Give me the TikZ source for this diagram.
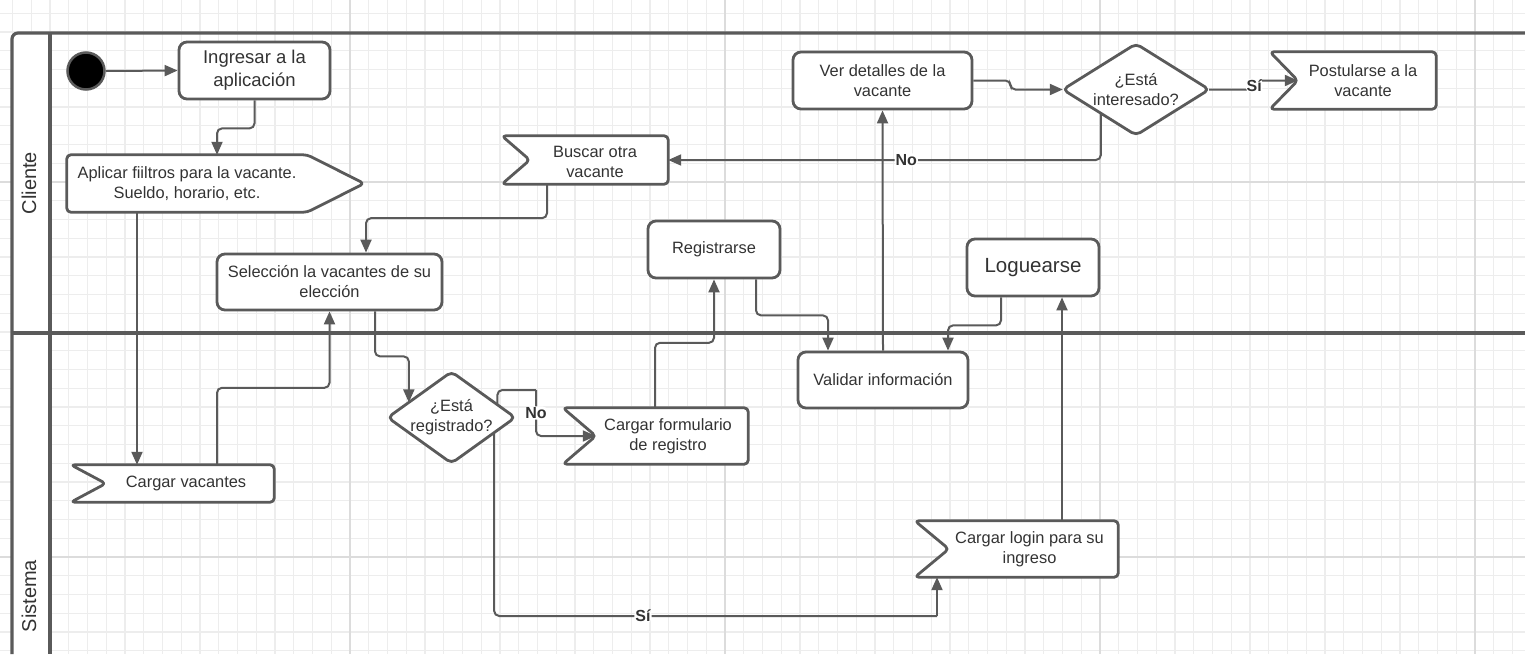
\documentclass[tikz,border=0pt]{standalone}
\usepackage{fontspec}
\setmainfont{Liberation Sans}
\usetikzlibrary{arrows.meta,calc}
\definecolor{linec}{HTML}{5A5A5A}
\definecolor{textc}{HTML}{333333}
\definecolor{gridminor}{HTML}{EDEDED}
\definecolor{gridmajor}{HTML}{DCDCDC}
\pgfdeclarelayer{gridlayer}
\pgfdeclarelayer{bglayer}
\pgfsetlayers{gridlayer,bglayer,main}
\tikzset{
  txt/.style={font=\fontsize{16.4}{20}\selectfont, text=textc, align=center, inner sep=0pt},
  rbox/.style={txt, draw=linec, line width=2.8pt, fill=white, rounded corners=8pt},
  border/.style={draw=linec, line width=2.8pt, fill=white, rounded corners=4pt, line join=round},
  conn/.style={draw=linec, line width=2pt, rounded corners=5pt, -{Triangle[length=13pt,width=11pt]}},
  plainconn/.style={draw=linec, line width=2pt, rounded corners=5pt},
  lbl/.style={font=\bfseries\fontsize{16}{18}\selectfont, text=textc, fill=white, inner sep=1pt},
  lane/.style={draw=linec, line width=3.2pt},
  lanelbl/.style={font=\fontsize{20}{24}\selectfont, text=textc, rotate=90, inner sep=0pt},
}
\begin{document}
\begin{tikzpicture}[x=1pt,y=-1pt]
\useasboundingbox (0,0) rectangle (1525,654);
% grid
\begin{pgfonlayer}{gridlayer}
  \fill[white] (0,0) rectangle (1525,654);
  \foreach \i in {0,...,81} \draw[gridminor, line width=1.2pt] ({12.5+18.75*\i},0) -- ({12.5+18.75*\i},654);
  \foreach \j in {0,...,34} \draw[gridminor, line width=1.2pt] (0,{13.25+18.75*\j}) -- (1525,{13.25+18.75*\j});
  \foreach \x in {350,725,1100,1475} \draw[gridmajor, line width=1.8pt] (\x,0) -- (\x,654);
  \foreach \y in {182,557} \draw[gridmajor, line width=1.8pt] (0,\y) -- (1525,\y);
\end{pgfonlayer}
% lanes
\begin{pgfonlayer}{bglayer}
  \fill[white, rounded corners=6pt] (12,660) -- (12,33) -- (50,33) -- (50,660) -- cycle;
  \draw[lane, rounded corners=6pt] (12,654) -- (12,33) -- (1525,33);
  \draw[lane, line width=4pt] (50,33) -- (50,654);
  \draw[lane] (12,333) -- (1525,333);
\end{pgfonlayer}
\node[lanelbl] (cliente) at (29,183) {Cliente};
\node[lanelbl] (sistema) at (29,596) {Sistema};

% nodes
\node[circle, fill=black, draw=linec, line width=2.5pt, minimum size=37pt, inner sep=0pt] (st) at (86,71) {};
\node[rbox, minimum width=151pt, minimum height=57pt, font=\fontsize{18.5}{23}\selectfont] (ing) at (254.5,70.5) {Ingresar a la\\aplicación};
\node[txt, minimum width=240pt, minimum height=57pt] (ap) at (187,183.5) {Aplicar f\kern0pt iiltros para la vacante.\\Sueldo, horario, etc.};
\node[txt, minimum width=176pt, minimum height=37pt] (cv) at (186,483.5) {Cargar vacantes};
\node[rbox, minimum width=225pt, minimum height=56pt] (se) at (329.5,282) {Selección la vacantes de su\\elección};
\node[txt, minimum width=146pt, minimum height=48pt] (bo) at (595,160) {\raisebox{-3pt}[\height][\depth]{\begin{tabular}{@{}c@{}}Buscar otra\\[0pt]vacante\end{tabular}}};
\node[rbox, minimum width=132pt, minimum height=57pt] (re) at (714,249.5) {Registrarse};
\node[txt, minimum width=127pt, minimum height=91pt] (dr) at (451.5,417.5) {¿Está\\registrado?};
\node[txt, minimum width=160pt, minimum height=56pt] (cf) at (668,436) {Cargar formulario\\de registro};
\node[rbox, minimum width=179pt, minimum height=57pt] (vd) at (882.5,80.5) {Ver detalles de la\\vacante};
\node[rbox, minimum width=170pt, minimum height=56pt] (va) at (883,380) {Validar información};
\node[rbox, minimum width=132pt, minimum height=57pt, font=\fontsize{20.5}{24}\selectfont] (lo) at (1033,267.5) {Loguearse};
\node[txt, minimum width=146pt, minimum height=91pt] (di) at (1136,89.5) {¿Está\\interesado?};
\node[txt, minimum width=146pt, minimum height=57pt] (po) at (1363,80.5) {Postularse a la\\vacante};
\node[txt, minimum width=177pt, minimum height=56pt] (cl) at (1029.5,549) {Cargar login para su\\ingreso};

% outlines of special shapes
\begin{pgfonlayer}{bglayer}
  \draw[border] (ap.north west) -- (ap.north east) -- ([xshift=57pt]ap.east) -- (ap.south east) -- (ap.south west) -- cycle;
  \draw[border] ([xshift=-27pt]cv.north west) -- (cv.north east) -- (cv.south east) -- ([xshift=-27pt]cv.south west) -- ([xshift=8pt]cv.west) -- cycle;
  \draw[border] ([xshift=-20pt]bo.north west) -- (bo.north east) -- (bo.south east) -- ([xshift=-20pt]bo.south west) -- ([xshift=8pt]bo.west) -- cycle;
  \draw[border] ([xshift=-25pt]cf.north west) -- (cf.north east) -- (cf.south east) -- ([xshift=-25pt]cf.south west) -- ([xshift=8pt]cf.west) -- cycle;
  \draw[border] ([xshift=-26pt]cl.north west) -- (cl.north east) -- (cl.south east) -- ([xshift=-26pt]cl.south west) -- ([xshift=8pt]cl.west) -- cycle;
  \draw[border] ([xshift=-20pt]po.north west) -- (po.north east) -- (po.south east) -- ([xshift=-20pt]po.south west) -- ([xshift=8pt]po.west) -- cycle;
  \draw[border, rounded corners=5pt] (dr.north) -- (dr.east) -- (dr.south) -- (dr.west) -- cycle;
  \draw[border, rounded corners=5pt] (di.north) -- (di.east) -- (di.south) -- (di.west) -- cycle;
\end{pgfonlayer}

% helper points on diamond edges
\coordinate (drIn) at ($(dr.west)!0.33!(dr.north)$);
\coordinate (drNo) at ($(dr.north)!0.72!(dr.east)$);
\coordinate (drSi) at ($(dr.east)!0.33!(dr.south)$);
\coordinate (diNo) at ($(di.west)!0.52!(di.south)$);
\coordinate (nojog) at (536,390);
\coordinate (sibot) at (937,616);

% connectors
\draw[conn] (st.east) -- (ing.west);
\draw[conn] (ing.south) -- ++(0,28) -| ([xshift=30pt]ap.north);
\draw[conn] ([xshift=-50pt]ap.south) -- ([xshift=-50pt]ap.south |- cv.north);
\draw[conn] ([xshift=31pt]cv.north) -- ++(0,-77) -| (se.south);
\draw[conn] ([xshift=-48pt]bo.south) -- ++(0,34) -| ([xshift=36.5pt]se.north);
\draw[conn] ([xshift=45.5pt]se.south) -- ++(0,45) -| (drIn);
\draw[plainconn] (drNo) |- (nojog);
\draw[conn] (nojog) |- node[lbl, pos=0.25] {No} ([xshift=8pt]cf.west);
\draw[conn] ([xshift=-13pt]cf.north) -- ++(0,-65) -| (re.south);
\draw[conn] ([xshift=42pt]re.south) -- ++(0,36) -| ([xshift=-55pt]va.north);
\draw[conn] ([xshift=-32pt]lo.south) -- ++(0,28) -| ([xshift=65pt]va.north);
\draw[conn] (va.north) -- (vd.south);
\draw[conn] (vd.east) -- ++(37,0) -- ++(0,9) -- (di.west);
\draw[conn] (di.east) -- ++(45,0) node[lbl, yshift=4pt] {Sí} |- ([xshift=8pt]po.west);
\draw[conn] (diNo) |- node[lbl, pos=0.725] {No} (bo.east);
\draw[plainconn] (drSi) |- node[lbl, pos=0.668] {Sí} (sibot);
\draw[conn] (sibot) -- (sibot |- cl.south);
\draw[conn] ([xshift=32.5pt]cl.north) -- ([xshift=32.5pt]cl.north |- lo.south);
\end{tikzpicture}
\end{document}
